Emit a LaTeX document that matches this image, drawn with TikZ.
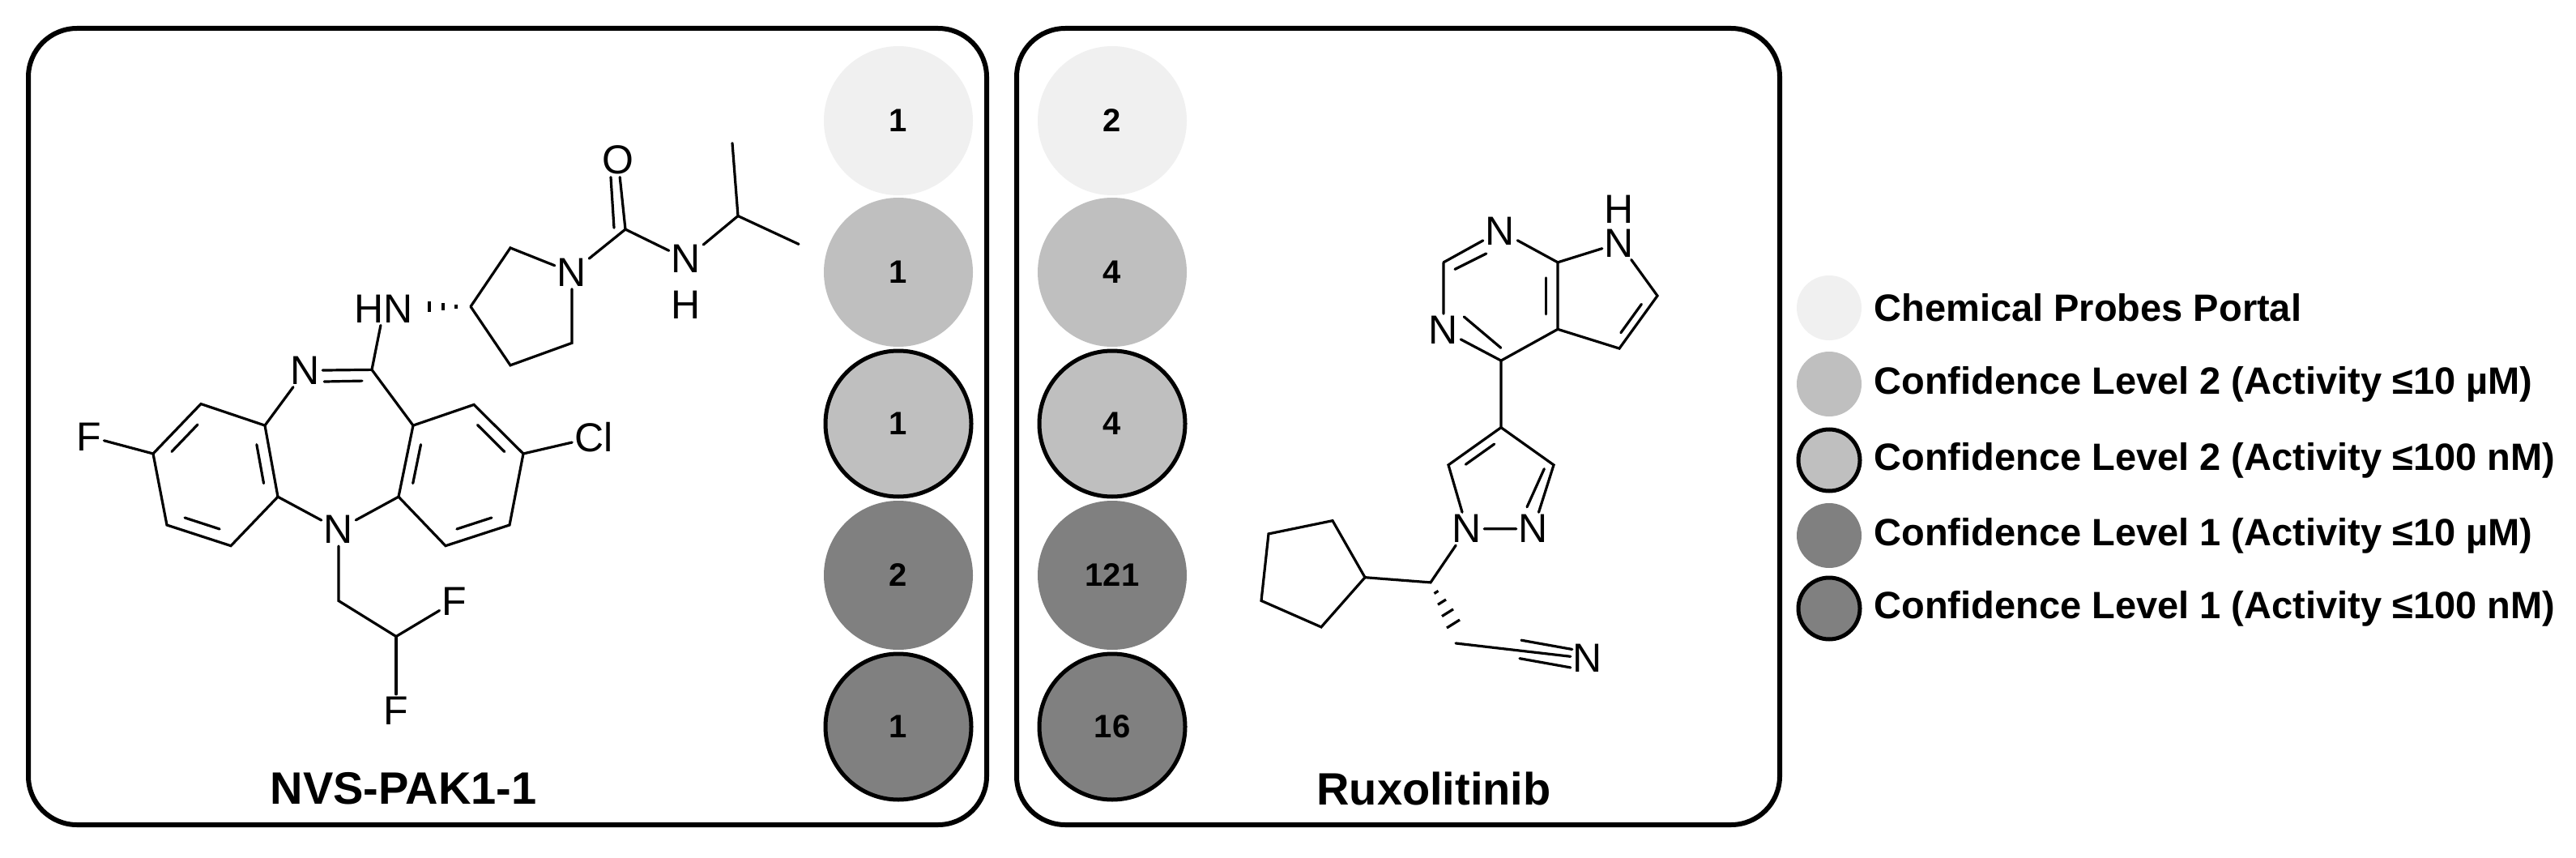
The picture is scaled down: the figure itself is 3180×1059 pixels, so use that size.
\documentclass[tikz,border=0pt]{standalone}
\usepackage{fontspec}
\setmainfont{Liberation Sans}
\usetikzlibrary{calc}
\definecolor{cl}{HTML}{F0F0F0}
\definecolor{cm}{HTML}{BFBFBF}
\definecolor{cd}{HTML}{808080}
\tikzset{
 bond/.style={line width=3.2pt,line cap=round},
 atom/.style={inner sep=3pt,font=\fontsize{50}{56}\selectfont},
 panel/.style={draw,line width=6pt,rounded corners=60pt},
 bub/.style={circle,minimum size=184pt,inner sep=0pt,font=\fontsize{40}{46}\selectfont\bfseries},
 bubo/.style={bub,draw,line width=5pt,minimum size=180pt},
 leg/.style={circle,minimum size=80pt,inner sep=0pt},
 lego/.style={leg,draw,line width=5pt,minimum size=76pt},
 legt/.style={anchor=west,font=\fontsize{47}{54}\selectfont\bfseries},
 title/.style={font=\fontsize{56}{64}\selectfont\bfseries}
}
\newcommand{\inb}[3]{\draw[bond] ($($(#1)!0.16!(#2)$)!0.2!(#3)$) -- ($($(#2)!0.16!(#1)$)!0.2!(#3)$);}
\begin{document}
\begin{tikzpicture}[x=1pt,y=-1pt]
\useasboundingbox (0,0) rectangle (3180,1059);
\fill[white] (0,0) rectangle (3180,1059);
\draw[panel] (35,35) rectangle (1218,1018);
\draw[panel] (1255,35) rectangle (2197,1018);
\node[bub,fill=cl] (a1) at (1109,149) {1};
\node[bub,fill=cm] (a2) at (1109,336) {1};
\node[bubo,fill=cm] (a3) at (1109,523) {1};
\node[bub,fill=cd] (a4) at (1109,710) {2};
\node[bubo,fill=cd] (a5) at (1109,897) {1};
\node[bub,fill=cl] (b1) at (1373,149) {2};
\node[bub,fill=cm] (b2) at (1373,336) {4};
\node[bubo,fill=cm] (b3) at (1373,523) {4};
\node[bub,fill=cd] (b4) at (1373,710) {121};
\node[bubo,fill=cd] (b5) at (1373,897) {16};
\node[title] (t1) at (498,973) {NVS-PAK1-1};
\node[title] (t2) at (1770,973) {Ruxolitinib};
\node[leg,fill=cl] (l1) at (2258,380) {};
\node[leg,fill=cm] (l2) at (2258,474) {};
\node[lego,fill=cm] (l3) at (2258,568) {};
\node[leg,fill=cd] (l4) at (2258,661) {};
\node[lego,fill=cd] (l5) at (2258,751) {};
\node[legt] (m1) at (2310,380) {Chemical Probes Portal};
\node[legt] (m2) at (2310,474) {Confidence Level 2 (Activity ≤10 µM)};
\node[legt] (m3) at (2310,568) {Confidence Level 2 (Activity ≤100 nM)};
\node[legt] (m4) at (2310,661) {Confidence Level 1 (Activity ≤10 µM)};
\node[legt] (m5) at (2310,751) {Confidence Level 1 (Activity ≤100 nM)};
% ---- NVS-PAK1-1
\begin{scope}[yshift=-11.6pt,yscale=0.917]
\coordinate (r1a) at (189,598); \coordinate (r1b) at (248,531); \coordinate (r1c) at (327,560);
\coordinate (r1d) at (343,656); \coordinate (r1e) at (285,722); \coordinate (r1f) at (206,694);
\coordinate (r1o) at (266,627);
\coordinate (r2a) at (510,560); \coordinate (r2b) at (585,532); \coordinate (r2c) at (646,598);
\coordinate (r2d) at (629,694); \coordinate (r2e) at (550,722); \coordinate (r2f) at (492,656);
\coordinate (r2o) at (569,627);
\coordinate (c11) at (459,485);
\node[atom] (F1) at (110,575) {F};
\node[atom] (N5) at (377,486) {N};
\node[atom] (N10) at (418,700) {N};
\node[atom] (Cl) at (733,576) {Cl};
\node[atom] (HN) at (474,403) {HN};
\coordinate (ch2) at (418,796); \coordinate (chf) at (489,844);
\node[atom] (F2) at (561,797) {F};
\node[atom] (F3) at (489,944) {F};
\coordinate (p3) at (581,400); \coordinate (p2) at (630,321);
\node[atom] (pN) at (706,354) {N};
\coordinate (p5) at (706,449); \coordinate (p4) at (630,479);
\coordinate (co) at (772,296);
\node[atom] (O) at (763,203) {O};
\node[atom] (NH) at (847,336) {N};
\node[atom] (H1) at (847,398) {H};
\coordinate (ip) at (911,278); \coordinate (me1) at (904,180); \coordinate (me2) at (986,316);
\draw[bond] (r1a)--(r1b)--(r1c)--(r1d)--(r1e)--(r1f)--cycle;
\inb{r1a}{r1b}{r1o} \inb{r1c}{r1d}{r1o} \inb{r1e}{r1f}{r1o}
\draw[bond] (r2a)--(r2b)--(r2c)--(r2d)--(r2e)--(r2f)--cycle;
\inb{r2b}{r2c}{r2o} \inb{r2a}{r2f}{r2o} \inb{r2d}{r2e}{r2o}
\draw[bond] (F1)--(r1a); \draw[bond] (r1c)--(N5); \draw[bond] (N5)--(c11);
\draw[bond] ($(N5.east)+(2,15)$) -- ($(c11)+(-12,15)$);
\draw[bond] (c11)--(r2a); \draw[bond] (r1d)--(N10)--(r2f);
\draw[bond] (r2c)--(Cl); \draw[bond] (c11)--(HN);
\draw[bond] (N10)--(ch2)--(chf)--(F2); \draw[bond] (chf)--(F3);
\draw[bond] (p3)--(p2)--(pN)--(p5)--(p4)--(p3);
\draw[bond,line cap=butt] (563,397)--(563,403) (547,395)--(547,405) (530,393)--(530,407);
\draw[bond] (pN)--(co)--(NH)--(ip)--(me1); \draw[bond] (ip)--(me2);
\draw[bond] (co)--(O); \draw[bond] ($(co)+(-14,-2)$)--($(O.south)+(-9,0)$);
\end{scope}
% ---- Ruxolitinib
\begin{scope}[yshift=50pt,yscale=1.25]
\coordinate (q2) at (1782,299);
\node[atom] (qN1) at (1852,268) {N};
\coordinate (q7a) at (1923,299); \coordinate (q4a) at (1923,365); \coordinate (q4) at (1853,396);
\node[atom] (qN3) at (1782,366) {N};
\coordinate (qo) at (1852,333);
\node[atom] (qN7) at (1999,280) {N};
\node[atom] (qH) at (1999,247) {H};
\coordinate (q6) at (2046,332); \coordinate (q5) at (1999,384); \coordinate (po) at (1978,340);
\draw[bond] (q2)--(qN1)--(q7a)--(q4a)--(q4)--(qN3)--(q2);
\draw[bond] ($(q2)!0.2!(qo)$)--($(qN1.south west)+(4,6)$);
\draw[bond] ($(qN3.north east)+(4,3)$)--($(q4)!0.2!(qo)$);
\inb{q7a}{q4a}{qo}
\draw[bond] (q7a)--(qN7)--(q6)--(q5)--(q4a); \inb{q6}{q5}{po}
\coordinate (z4) at (1853,462); \coordinate (z3) at (1918,499); \coordinate (z5) at (1788,499);
\node[atom] (zN2) at (1893,562) {N};
\node[atom] (zN1) at (1811,562) {N};
\coordinate (zo) at (1853,520);
\draw[bond] (q4)--(z4)--(z3)--(zN2)--(zN1)--(z5)--(z4);
\inb{z4}{z5}{zo}
\draw[bond] ($(z3)!0.18!(zo)$)--($(zN2.north)!0.2!(zo)$);
\coordinate (ch) at (1766,615); \coordinate (cp1) at (1685,610); \coordinate (cp2) at (1645,554);
\coordinate (cp3) at (1566,567); \coordinate (cp4) at (1557,633); \coordinate (cp5) at (1631,659);
\draw[bond] (zN1)--(ch)--(cp1);
\draw[bond] (cp1)--(cp2)--(cp3)--(cp4)--(cp5)--cycle;
\coordinate (cn2) at (1797,675); \coordinate (cnc) at (1877,681);
\node[atom] (cN) at (1960,690) {N};
\draw[bond,line cap=butt] (1770.5,626)--(1775.5,623.5) (1775,637)--(1785,632) (1780,648.5)--(1794,641.5) (1786,660)--(1802,652);
\draw[bond] (cn2)--(cN);
\draw[bond] ($(cnc)+(1,-9)$)--($(cN.west)+(2,-9)$);
\draw[bond] ($(cnc)+(-1,9)$)--($(cN.west)+(0,9)$);
\end{scope}
\end{tikzpicture}
\end{document}
